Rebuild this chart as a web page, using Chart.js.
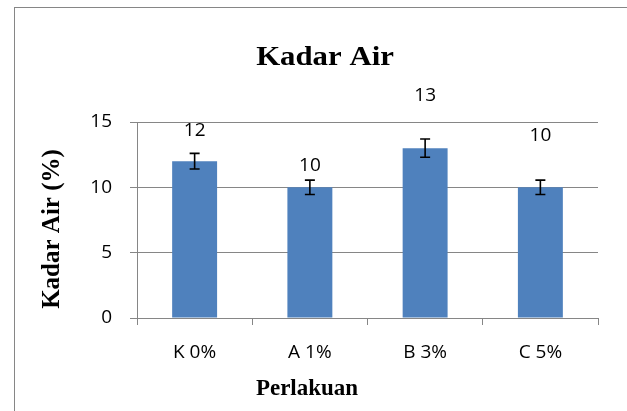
<!DOCTYPE html>
<html>
<head>
<meta charset="utf-8">
<script src="https://cdn.jsdelivr.net/npm/chart.js@4/dist/chart.umd.min.js"></script>
<style>
  body { margin: 0; background: #fff; }
  #wrap { width: 627px; height: 411px; }
</style>
</head>
<body>
<div id="wrap"><canvas id="KadarChart" width="627" height="411"></canvas></div>
<script>
// data
const categories = ['K 0%', 'A 1%', 'B 3%', 'C 5%'];
const kadarAir = [12, 10, 13, 10];
const errors = [0.6, 0.55, 0.7, 0.55];
const yTicks = [0, 5, 10, 15];

// label lift above bar top (px), Excel labels were dragged by hand
const labelLift = [31, 22, 53, 52];

const gray = 'rgb(134,134,134)';
const serif = "'Liberation Serif', 'Times New Roman', serif";
const sans = "'Open Sans', sans-serif";

const extras = {
  id: 'extras',
  beforeDraw(chart) {
    const { ctx } = chart;
    ctx.save();
    ctx.strokeStyle = gray;
    ctx.lineWidth = 1;
    ctx.strokeRect(14.5, 7.5, 800, 600);
    ctx.restore();
  },
  afterDatasetsDraw(chart) {
    const { ctx } = chart;
    const meta = chart.getDatasetMeta(0);
    const y = chart.scales.y;
    ctx.save();
    ctx.strokeStyle = '#000';
    ctx.lineWidth = 1.6;
    meta.data.forEach((bar, i) => {
      const v = kadarAir[i];
      const top = y.getPixelForValue(v + errors[i]);
      const bot = y.getPixelForValue(v - errors[i]);
      ctx.beginPath();
      ctx.moveTo(bar.x, top); ctx.lineTo(bar.x, bot);
      ctx.moveTo(bar.x - 5, top); ctx.lineTo(bar.x + 5, top);
      ctx.moveTo(bar.x - 5, bot); ctx.lineTo(bar.x + 5, bot);
      ctx.stroke();
    });
    // data labels
    ctx.fillStyle = '#000';
    ctx.font = '19px ' + sans;
    ctx.textAlign = 'center';
    ctx.textBaseline = 'middle';
    meta.data.forEach((bar, i) => {
      ctx.fillText(String(kadarAir[i]), bar.x, bar.y - labelLift[i]);
    });
    ctx.restore();
  },
  afterDraw(chart) {
    const { ctx } = chart;
    ctx.save();
    ctx.fillStyle = '#000';
    ctx.textAlign = 'center';
    ctx.textBaseline = 'middle';
    // chart title
    ctx.save();
    ctx.translate(325, 58);
    ctx.scale(1.1, 1);
    ctx.font = 'bold 28px ' + serif;
    ctx.fillText('Kadar Air', 0, 0);
    ctx.restore();
    // x axis title
    ctx.font = 'bold 23px ' + serif;
    ctx.fillText('Perlakuan', 307, 389);
    // y axis title
    ctx.save();
    ctx.translate(53, 229);
    ctx.rotate(-Math.PI / 2);
    ctx.font = 'bold 25px ' + serif;
    ctx.fillText('Kadar Air (%)', 0, 0);
    ctx.restore();
    ctx.restore();
  }
};

const ctxEl = document.getElementById('KadarChart').getContext('2d');
const chart = new Chart(ctxEl, {
  type: 'bar',
  data: {
    labels: categories,
    datasets: [{
      data: kadarAir,
      backgroundColor: 'rgb(79,129,189)',
      borderWidth: 0,
      barPercentage: 0.39,
      categoryPercentage: 1
    }]
  },
  options: {
    responsive: false,
    animation: false,
    layout: { padding: { top: 122, right: 29, bottom: 0, left: 0 } },
    plugins: { legend: { display: false }, tooltip: { enabled: false }, title: { display: false } },
    scales: {
      x: {
        offset: true,
        afterFit(scale) { scale.height = 93; },
        grid: { display: true, drawOnChartArea: false, offset: true, color: gray, tickLength: 7 },
        border: { display: true, color: gray, width: 1 },
        ticks: { color: '#000', font: { family: sans, size: 19 }, padding: 16, maxRotation: 0 }
      },
      y: {
        min: 0, max: 15,
        afterFit(scale) { scale.width = 137; },
        afterBuildTicks(scale) { scale.ticks = yTicks.map(v => ({ value: v })); },
        grid: { color: gray, tickLength: 7, lineWidth: 1 },
        border: { display: true, color: gray, width: 1 },
        ticks: { color: '#000', font: { family: sans, size: 19 }, padding: 18 }
      }
    }
  },
  plugins: [extras]
});
</script>
</body>
</html>
